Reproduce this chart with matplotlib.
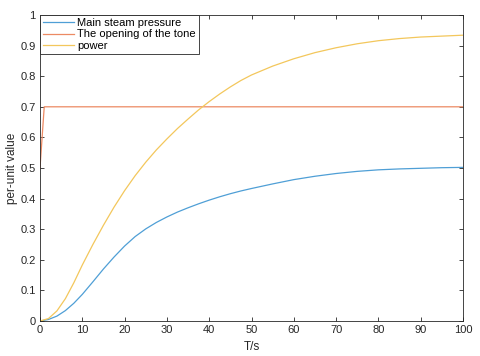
import matplotlib
matplotlib.use("Agg")
import matplotlib.pyplot as plt

plt.rcParams['font.family'] = ['Liberation Sans', 'DejaVu Sans']

t = [0, 2, 4, 6, 8, 10, 12.5, 15, 17.5, 20, 22.5, 25, 27.5, 30, 32.5, 35,
     37.5, 40, 42.5, 45, 47.5, 50, 55, 60, 65, 70, 75, 80, 85, 90, 95, 100]
pressure = [0, 0.005, 0.016, 0.034, 0.058, 0.087, 0.128, 0.170, 0.209, 0.245,
            0.276, 0.301, 0.322, 0.340, 0.356, 0.370, 0.383, 0.395, 0.406,
            0.416, 0.425, 0.433, 0.448, 0.462, 0.473, 0.482, 0.489, 0.494,
            0.497, 0.499, 0.501, 0.502]
power = [0, 0.008, 0.033, 0.073, 0.125, 0.183, 0.250, 0.313, 0.372, 0.426,
         0.475, 0.519, 0.559, 0.595, 0.629, 0.660, 0.690, 0.717, 0.742,
         0.765, 0.786, 0.804, 0.833, 0.857, 0.877, 0.893, 0.906, 0.916,
         0.923, 0.928, 0.931, 0.934]
t_open = [0, 1, 100]
opening = [0.5, 0.7, 0.7]

labels = ["Main steam pressure", "The opening of the tone", "power"]
colors = ["#4f9fd6", "#ec8a63", "#f3c75c"]

fig = plt.figure(figsize=(4.8, 3.56), dpi=100)
ax = fig.add_axes([40/480, 35/356, 423/480, 306/356])

ax.plot(t, pressure, color=colors[0], lw=0.9, label=labels[0])
ax.plot(t_open, opening, color=colors[1], lw=0.9, label=labels[1])
ax.plot(t, power, color=colors[2], lw=0.9, label=labels[2])

ax.set_xlim(0, 100)
ax.set_ylim(0, 1)
ax.set_xticks(range(0, 101, 10))
ax.set_yticks([i / 10 for i in range(11)])
ax.set_yticklabels(["0"] + [f"{i/10:.1f}" for i in range(1, 10)] + ["1"])

tc = "#262626"
for s in ax.spines.values():
    s.set_color(tc)
    s.set_linewidth(0.6)
ax.tick_params(direction="in", top=True, right=True, length=3, width=0.6,
               colors=tc, labelsize=8, pad=3)

ax.set_xlabel("T/s", fontsize=8.5, color=tc, labelpad=4)
ax.set_ylabel("per-unit value", fontsize=8.5, color=tc, labelpad=1.5)

leg = ax.legend(loc="upper left", borderaxespad=0, fancybox=False,
                framealpha=1, fontsize=8, handlelength=2.8,
                labelspacing=0.15, borderpad=0.25, handletextpad=0.3)
leg.get_frame().set_edgecolor(tc)
leg.get_frame().set_linewidth(0.6)

fig.savefig("out.png", dpi=100)
